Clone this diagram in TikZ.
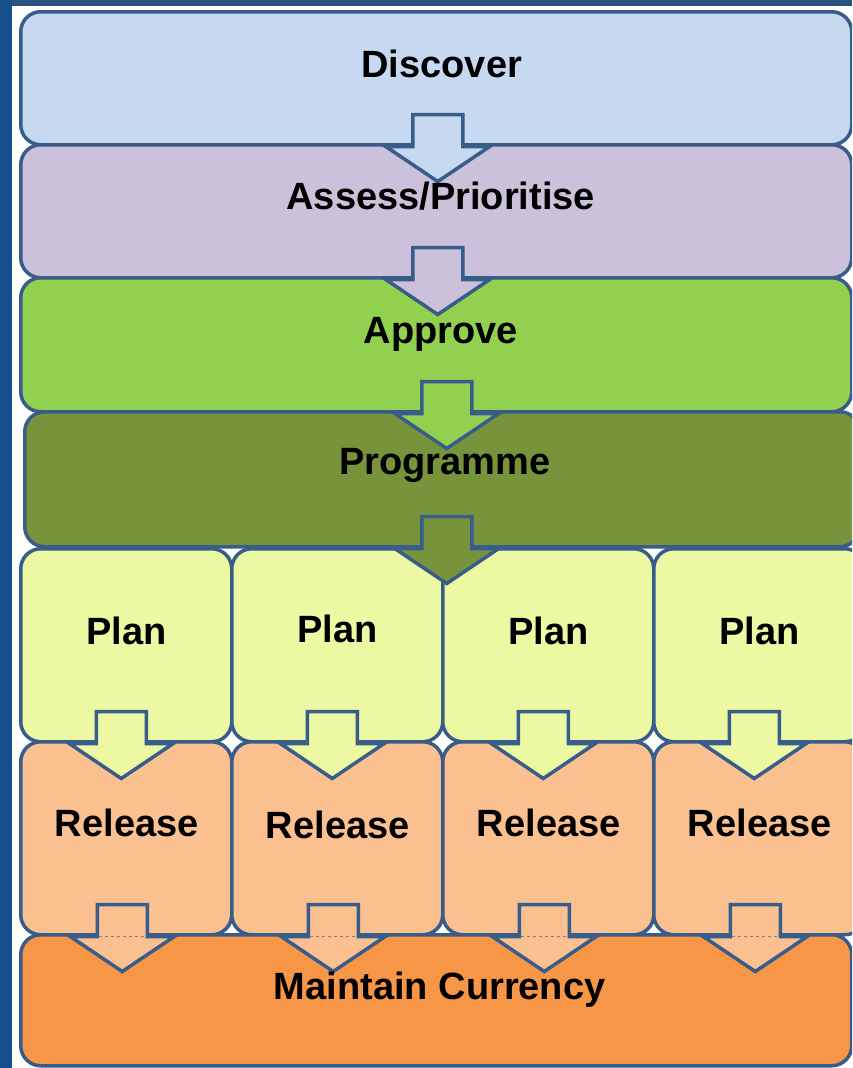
\documentclass[tikz,border=0pt]{standalone}
\usepackage{fontspec}
\setmainfont{Liberation Sans}
\usetikzlibrary{calc}
\definecolor{edgeblue}{RGB}{56, 93, 138}
\definecolor{discblue}{RGB}{198, 217, 241}
\definecolor{assesslilac}{RGB}{204, 193, 218}
\definecolor{approvegreen}{RGB}{146, 208, 80}
\definecolor{proggreen}{RGB}{119, 147, 60}
\definecolor{planyellow}{RGB}{236, 248, 162}
\definecolor{releasepeach}{RGB}{250, 192, 144}
\definecolor{maintorange}{RGB}{247, 150, 70}
\definecolor{leftblue}{RGB}{22, 80, 140}
\definecolor{topblue}{RGB}{40, 82, 130}
\tikzset{
  box/.style={draw=edgeblue, line width=3.5pt, rounded corners=20pt, inner sep=0pt, anchor=north west},
  lbl/.style={font=\fontsize{38}{40}\selectfont\bfseries, anchor=base, inner sep=0pt},
  arr/.style={draw=edgeblue, line width=3.5pt, line join=miter},
  pics/downarr/.style={code={
    \draw[arr, fill=#1] (-25,-32) -- (25,-32) -- (25,0) -- (52,0) -- (0,35) -- (-52,0) -- (-25,0) -- cycle;
  }}
}

\begin{document}
\begin{tikzpicture}[x=1pt, y=-1pt]
  \useasboundingbox (0,0) rectangle (852,1068);
  \clip (0,0) rectangle (852,1068);

  % Background
  \fill[white] (0,0) rectangle (852,1068);
  \fill[leftblue] (0,0) rectangle (12,1068);
  \fill[topblue] (12,0) rectangle (852,6);

  % Full-width stages
  \node[box, fill=discblue, minimum width=831pt, minimum height=133pt] (disc) at (19,10) {};
  \node[box, fill=assesslilac, minimum width=831pt, minimum height=133pt] (asse) at (19,143) {};
  \node[box, fill=approvegreen, minimum width=831pt, minimum height=134pt] (appr) at (19,276) {};
  \node[box, fill=proggreen, minimum width=835pt, minimum height=135pt] (prog) at (23,410) {};

  % Plan and release columns
  \foreach \i/\x in {1/19, 2/230, 3/441, 4/652} {
    \node[box, fill=planyellow, minimum width=211pt, minimum height=193pt] (plan\i) at (\x,547) {};
  }
  \foreach \i/\x in {1/19, 2/230, 3/441, 4/652} {
    \node[box, fill=releasepeach, minimum width=211pt, minimum height=193pt] (rel\i) at (\x,740) {};
  }
  \node[box, fill=maintorange, minimum width=831pt, minimum height=131pt] (main) at (19,933) {};

  % Arrows between stages
  \pic at ([xshift=1.5pt]disc.south) {downarr=discblue};
  \pic at ([xshift=1.5pt]asse.south) {downarr=assesslilac};
  \pic at ([xshift=10.5pt]appr.south) {downarr=approvegreen};
  \pic at ([xshift=4.5pt]prog.south) {downarr=proggreen};
  \foreach \i in {1,...,4} {
    \pic at ([xshift=-5pt]plan\i.south) {downarr=planyellow};
    \pic at ([xshift=-4pt]rel\i.south) {downarr=releasepeach};
    \draw[gray, dashed, line width=1.5pt] ([xshift=-27pt]rel\i.south) -- ([xshift=19pt]rel\i.south);
  }

  % Labels
  \node[lbl] (tdisc) at ($(disc.north)+(5.5,67)$) {Discover};
  \node[lbl] (tasse) at ($(asse.north)+(4.5,66)$) {Assess/Prioritise};
  \node[lbl] (tappr) at ($(appr.north)+(4.5,67)$) {Approve};
  \node[lbl] (tprog) at ($(prog.north)+(2.5,64)$) {Programme};
  \foreach \i/\dy in {1/97, 2/95, 3/97, 4/97} {
    \node[lbl] (tplan\i) at ($(plan\i.north)+(0,\dy)$) {Plan};
  }
  \foreach \i/\dy in {1/96, 2/98, 3/96, 4/96} {
    \node[lbl] (trel\i) at ($(rel\i.north)+(0.5,\dy)$) {Release};
  }
  \node[lbl] (tmain) at ($(main.north)+(3.5,66)$) {Maintain Currency};
\end{tikzpicture}
\end{document}
